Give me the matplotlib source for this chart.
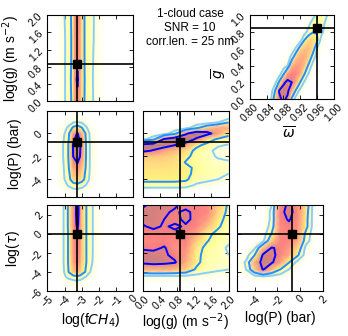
import numpy as np
import matplotlib
matplotlib.use('Agg')
from matplotlib import pyplot as plt
from matplotlib.colors import ListedColormap

plt.rcParams['font.family'] = ['Liberation Sans', 'DejaVu Sans']
plt.rcParams['mathtext.fontset'] = 'dejavusans'

# true parameter values (black lines + squares)
truth_fch4 = -3.3
truth_g = 0.86
truth_p = -0.7
truth_tau = 0.0
truth_eps = 0.96
truth_gbar = 0.85

# posterior density grids (rows = y nodes, cols = x nodes)
# log(g) vs log(fCH4)
xs_a = [-5, -4.5, -4.25, -4, -3.75, -3.5, -3.4, -3.25, -3.1, -3, -2.75, -2.5, -2.25, -2, -1.5]
ys_a = [0, 0.5, 1.0, 1.5, 2.0]
z_a = [
    [0, 0, 0.3, 0.9, 1.6, 3.2, 5.4, 6.0, 5.2, 3.6, 1.9, 1.4, 0.8, 0.3, 0],
    [0, 0, 0.3, 0.9, 1.7, 3.4, 5.8, 7.5, 5.5, 3.8, 1.9, 1.3, 0.8, 0.3, 0],
    [0, 0, 0.3, 0.9, 1.6, 3.2, 5.6, 6.3, 5.3, 3.6, 1.9, 1.4, 0.8, 0.3, 0],
    [0, 0, 0.2, 0.9, 1.6, 3.2, 5.8, 6.5, 5.4, 3.6, 1.9, 1.4, 0.9, 0.3, 0],
    [0, 0, 0.3, 1.0, 1.7, 3.3, 6.0, 6.8, 5.6, 3.6, 1.9, 1.5, 0.9, 0.3, 0],
]

# log(P) vs log(fCH4)
xs_b = [-4.5, -4, -3.75, -3.5, -3.25, -3, -2.75, -2.5, -2]
ys_b = [-5.5, -5, -4.5, -4, -3, -2, -1, 0, 0.5, 1, 1.5, 2]
z_b = [
    [0, 0, 0, 0, 0, 0, 0, 0, 0],
    [0, 0.1, 0.3, 0.5, 0.5, 0.4, 0.2, 0, 0],
    [0, 0.6, 1.2, 1.8, 2.0, 1.6, 1.0, 0.3, 0],
    [0, 1.0, 2.0, 3.5, 4.0, 3.2, 2.0, 0.6, 0],
    [0, 1.1, 2.5, 5.0, 6.0, 4.5, 2.3, 0.8, 0],
    [0, 1.2, 2.7, 7.0, 8.5, 6.0, 2.5, 0.8, 0],
    [0, 1.2, 2.7, 7.2, 9.5, 6.0, 2.5, 0.8, 0],
    [0, 1.0, 2.3, 5.5, 7.2, 5.0, 2.2, 0.7, 0],
    [0, 0.6, 1.3, 2.8, 3.5, 2.6, 1.2, 0.4, 0],
    [0, 0.2, 0.4, 0.8, 1.0, 0.8, 0.4, 0.1, 0],
    [0, 0, 0.1, 0.2, 0.2, 0.2, 0.1, 0, 0],
    [0, 0, 0, 0, 0, 0, 0, 0, 0],
]

# log(P) vs log(g)
xs_c = [0, 0.25, 0.5, 0.75, 1.0, 1.25, 1.5, 1.75, 2.0]
ys_c = [-5.5, -5, -4.5, -4, -3.5, -3, -2.5, -2, -1.5, -1, -0.5, 0, 0.5, 1, 1.5, 2]
z_c = [
    [0, 0, 0, 0, 0, 0, 0, 0, 0],
    [0, 0, 0, 0, 0, 0, 0, 0, 0],
    [1.8, 1.8, 1.8, 1.8, 1.7, 0.8, 0.5, 0.2, 0.0],
    [3.0, 3.0, 3.0, 3.0, 2.8, 1.6, 1.3, 1.0, 0.4],
    [3.2, 3.2, 3.2, 3.1, 3.0, 2.0, 1.6, 1.5, 1.0],
    [3.4, 3.4, 3.4, 3.3, 2.9, 2.2, 1.6, 1.4, 1.3],
    [3.6, 3.7, 3.7, 3.5, 2.4, 1.8, 1.5, 1.2, 1.1],
    [4.1, 4.2, 4.1, 3.8, 3.0, 1.8, 1.3, 0.9, 0.7],
    [7.6, 6.8, 5.3, 4.5, 3.5, 2.0, 1.4, 0.6, 0.5],
    [8.0, 8.4, 8.3, 7.1, 5.5, 3.0, 2.0, 1.2, 0.9],
    [0.5, 2.0, 7.3, 9.0, 9.3, 6.5, 3.5, 2.2, 1.8],
    [0, 0, 0.3, 2.0, 6.5, 9.0, 8.0, 5.5, 3.0],
    [0, 0, 0, 0, 0.3, 2.0, 4.0, 5.0, 5.0],
    [0, 0, 0, 0, 0, 0, 0, 0.8, 2.3],
    [0, 0, 0, 0, 0, 0, 0, 0, 0],
    [0, 0, 0, 0, 0, 0, 0, 0, 0],
]

# g-bar vs omega-bar
xs_d = [0.84, 0.85, 0.86, 0.87, 0.88, 0.89, 0.90, 0.91, 0.92, 0.93, 0.94, 0.95, 0.96, 0.97, 0.98, 0.99]
ys_d = [0, 0.1, 0.2, 0.3, 0.4, 0.5, 0.6, 0.7, 0.8, 0.9, 1.0]
z_d = [
    [0, 0.8, 3.5, 6.5, 7.5, 6.5, 2.0, 0.3, 0, 0, 0, 0, 0, 0, 0, 0],
    [0, 0.2, 2.5, 7.2, 8.0, 7.5, 5.0, 2.2, 0.5, 0, 0, 0, 0, 0, 0, 0],
    [0, 0, 0.5, 2.8, 6.5, 7.6, 7.0, 5.0, 2.5, 0.8, 0, 0, 0, 0, 0, 0],
    [0, 0, 0, 0.3, 2.2, 5.5, 6.5, 6.2, 5.0, 2.6, 0.9, 0, 0, 0, 0, 0],
    [0, 0, 0, 0, 0.2, 1.0, 4.5, 5.5, 5.5, 4.5, 2.2, 0.5, 0, 0, 0, 0],
    [0, 0, 0, 0, 0, 0.2, 1.5, 4.0, 5.0, 5.0, 4.0, 1.8, 0.3, 0, 0, 0],
    [0, 0, 0, 0, 0, 0, 0.1, 1.2, 3.5, 4.5, 4.5, 3.5, 1.0, 0.2, 0, 0],
    [0, 0, 0, 0, 0, 0, 0, 0.1, 0.4, 2.6, 3.8, 3.8, 2.8, 0.5, 0, 0],
    [0, 0, 0, 0, 0, 0, 0, 0, 0, 0.3, 1.6, 2.4, 2.4, 1.5, 0.4, 0],
    [0, 0, 0, 0, 0, 0, 0, 0, 0, 0, 0.5, 1.8, 2.2, 1.8, 0.8, 0.2],
    [0, 0, 0, 0, 0, 0, 0, 0, 0, 0, 0, 0.3, 1.5, 1.8, 1.4, 0.5],
]

# log(tau) vs log(fCH4)
xs_h = [-5, -4.5, -4.25, -4, -3.75, -3.5, -3.4, -3.25, -3.1, -3, -2.75, -2.5, -2.25, -2, -1.5]
ys_h = [-6, -5, -4.5, -4, -3, -2, -1, 0, 1, 2, 3]
z_h = [
    [0, 0, 0, 0, 0, 0, 0, 0, 0, 0, 0, 0, 0, 0, 0],
    [0, 0, 0, 0.2, 0.4, 0.6, 0.7, 0.7, 0.6, 0.5, 0.3, 0.1, 0, 0, 0],
    [0, 0, 0, 0.8, 1.5, 2.0, 2.1, 2.2, 2.0, 1.6, 1.0, 0.5, 0.2, 0, 0],
    [0, 0, 0.2, 1.1, 2.6, 4.0, 4.3, 4.5, 4.1, 3.4, 2.3, 1.0, 0.4, 0, 0],
    [0, 0, 0.3, 1.2, 2.8, 5.0, 5.8, 6.2, 5.5, 4.0, 2.6, 1.4, 0.6, 0.1, 0],
    [0, 0, 0.3, 1.2, 2.8, 5.2, 6.0, 6.6, 5.8, 4.2, 2.6, 1.4, 0.7, 0.2, 0],
    [0, 0, 0.3, 1.2, 2.8, 5.2, 6.1, 6.8, 5.9, 4.2, 2.6, 1.4, 0.7, 0.2, 0],
    [0, 0, 0.3, 1.2, 2.8, 5.3, 6.2, 6.9, 6.0, 4.2, 2.6, 1.4, 0.7, 0.2, 0],
    [0, 0, 0.3, 1.2, 2.9, 5.4, 6.4, 7.4, 6.1, 4.3, 2.6, 1.4, 0.7, 0.2, 0],
    [0, 0, 0.3, 1.2, 2.9, 5.5, 6.5, 7.6, 6.2, 4.3, 2.6, 1.4, 0.7, 0.2, 0],
    [0, 0, 0.3, 1.2, 2.9, 5.5, 6.5, 7.6, 6.2, 4.3, 2.6, 1.4, 0.7, 0.2, 0],
]

# log(tau) vs log(g)
xs_e = [0, 0.25, 0.5, 0.75, 1.0, 1.25, 1.5, 1.75, 2.0]
ys_e = [-6, -5.25, -4.5, -3.75, -3, -2.25, -1.5, -0.75, 0, 0.75, 1.5, 2.25, 3]
z_e = [
    [0, 0, 0, 0, 0, 0, 0, 0, 0],
    [0, 0, 0, 0, 0, 0, 0, 0, 0],
    [0.6, 0.6, 0.6, 0.6, 0.6, 0.5, 0.4, 0.3, 0.2],
    [4.5, 4.8, 4.8, 4.5, 4.0, 2.2, 1.5, 1.2, 1.0],
    [7.5, 7.8, 7.6, 7.2, 5.0, 3.0, 1.6, 1.3, 1.2],
    [7.6, 7.8, 7.3, 6.5, 5.5, 3.0, 1.8, 1.5, 1.0],
    [6.8, 6.5, 7.2, 5.8, 6.0, 3.2, 2.0, 1.5, 0.8],
    [6.0, 6.2, 6.3, 6.0, 6.5, 4.0, 2.6, 1.8, 1.2],
    [6.2, 6.3, 6.5, 6.6, 6.5, 5.2, 3.0, 2.0, 1.4],
    [6.8, 7.4, 6.8, 7.3, 6.8, 6.2, 4.5, 2.8, 1.5],
    [7.5, 7.6, 7.0, 6.5, 7.4, 6.5, 5.5, 3.2, 1.8],
    [7.8, 7.5, 7.2, 6.8, 7.3, 6.6, 6.2, 3.8, 2.0],
    [6.5, 7.8, 7.5, 7.2, 6.5, 6.5, 6.0, 4.0, 2.2],
]

# log(tau) vs log(P)
xs_f = [-5.5, -4.75, -4, -3.25, -2.5, -1.75, -1, -0.25, 0.5, 1.25, 2]
ys_f = [-6, -5.25, -4.5, -3.75, -3, -2.25, -1.5, -0.75, 0, 0.75, 1.5, 2.25, 3]
z_f = [
    [0, 0, 0, 0, 0, 0, 0, 0, 0, 0, 0],
    [0, 0, 0, 0, 0, 0, 0, 0, 0, 0, 0],
    [0, 0, 0.5, 0.8, 0.5, 0.2, 0, 0, 0, 0, 0],
    [0, 1.0, 4.0, 7.2, 4.5, 2.5, 1.0, 0, 0, 0, 0],
    [0, 1.2, 5.0, 8.0, 7.3, 5.5, 2.6, 0.5, 0, 0, 0],
    [0, 0.3, 2.5, 7.4, 7.6, 6.2, 5.0, 2.8, 0.2, 0, 0],
    [0, 0, 0.8, 4.5, 7.2, 6.5, 5.5, 3.8, 0.5, 0, 0],
    [0, 0, 0, 0.7, 4.0, 6.3, 6.2, 5.0, 1.6, 0, 0],
    [0, 0, 0, 0.2, 2.6, 6.0, 6.5, 5.5, 2.0, 0, 0],
    [0, 0, 0, 0, 1.6, 6.0, 6.5, 5.8, 3.0, 0, 0],
    [0, 0, 0, 0, 1.3, 6.3, 7.2, 6.0, 3.0, 0, 0],
    [0, 0, 0, 0, 1.3, 6.5, 7.6, 6.2, 3.2, 0, 0],
    [0, 0, 0, 0, 1.0, 6.0, 7.5, 6.0, 3.5, 0, 0],
]

levels = [1.0, 2.5, 7.0]
level_colors = ['#87cefa', '#1e90ff', '#0000ff']

lab_fch4 = r'log(f$CH_4$)'
lab_g = r'log(g) (m s$^{-2}$)'
lab_p = 'log(P) (bar)'
lab_tau = r'log($\tau$)'

fch4_ticks = [-5, -4, -3, -2, -1, 0]
g_ticks = [0.0, 0.4, 0.8, 1.2, 1.6, 2.0]
p_ticks_y = [-4, -2, 0]
p_ticks_x = [-4, -2, 0, 2]
tau_ticks = [-6, -4, -2, 0, 2]
eps_ticks = [0.80, 0.84, 0.88, 0.92, 0.96, 1.00]
gbar_ticks = [0.0, 0.2, 0.4, 0.6, 0.8, 1.0]

# hot_r seen through a half transparent layer on white
_hot = plt.get_cmap('hot_r')(np.linspace(0, 1, 256))
_hot[:, :3] = 0.5 * _hot[:, :3] + 0.5
heat_cmap = ListedColormap(_hot)


def draw_panel(ax, xs, ys, z, tx, ty):
    z = np.array(z)
    ax.pcolormesh(xs, ys, z, shading='gouraud', cmap=heat_cmap,
                  vmin=0, vmax=10, zorder=1)
    ax.contour(xs, ys, z, levels=levels, colors=level_colors,
               linewidths=1.4, zorder=2)
    ax.axvline(tx, color='k', lw=1.2, zorder=3)
    ax.axhline(ty, color='k', lw=1.2, zorder=3)
    ax.plot(tx, ty, 's', color='k', ms=6, zorder=4)
    ax.tick_params(direction='in', top=True, right=True, length=3,
                   width=0.6, labelsize=7.5, pad=2)


fig = plt.figure(figsize=(3.48, 3.36), dpi=100)

col_l = [0.136, 0.410, 0.682]
col_w = 0.247
row_b = [0.699, 0.415, 0.134]
row_h = 0.256

ax_a = fig.add_axes([col_l[0], row_b[0], col_w, row_h])
ax_b = fig.add_axes([col_l[0], row_b[1], col_w, row_h])
ax_c = fig.add_axes([col_l[1], row_b[1], col_w, row_h])
ax_h = fig.add_axes([col_l[0], row_b[2], col_w, row_h])
ax_e = fig.add_axes([col_l[1], row_b[2], col_w, row_h])
ax_f = fig.add_axes([col_l[2], row_b[2], col_w, row_h])
ax_d = fig.add_axes([0.718, 0.705, 0.241, 0.25])

draw_panel(ax_a, xs_a, ys_a, z_a, truth_fch4, truth_g)
draw_panel(ax_b, xs_b, ys_b, z_b, truth_fch4, truth_p)
draw_panel(ax_c, xs_c, ys_c, z_c, truth_g, truth_p)
draw_panel(ax_h, xs_h, ys_h, z_h, truth_fch4, truth_tau)
draw_panel(ax_e, xs_e, ys_e, z_e, truth_g, truth_tau)
draw_panel(ax_f, xs_f, ys_f, z_f, truth_p, truth_tau)
draw_panel(ax_d, xs_d, ys_d, z_d, truth_eps, truth_gbar)

for ax in (ax_a, ax_b, ax_h):
    ax.set_xlim(-5, 0)
    ax.set_xticks(fch4_ticks)
for ax in (ax_c, ax_e):
    ax.set_xlim(0, 2)
    ax.set_xticks(g_ticks)
ax_f.set_xlim(-5.5, 2)
ax_f.set_xticks(p_ticks_x)

ax_a.set_ylim(0, 2)
ax_a.set_yticks(g_ticks)
for ax in (ax_b, ax_c):
    ax.set_ylim(-5.5, 2)
    ax.set_yticks(p_ticks_y)
for ax in (ax_h, ax_e, ax_f):
    ax.set_ylim(-6, 3)
    ax.set_yticks(tau_ticks)

ax_d.set_xlim(0.8, 1.0)
ax_d.set_ylim(0, 1.0)
ax_d.set_xticks(eps_ticks)
ax_d.set_xticklabels(['%.2f' % v for v in eps_ticks])
ax_d.set_yticks(gbar_ticks)
ax_d.set_yticklabels(['%.1f' % v for v in gbar_ticks])

ax_a.set_yticklabels(['%.1f' % v for v in g_ticks])
ax_e.set_xticklabels(['%.1f' % v for v in g_ticks])

for ax in (ax_a, ax_b, ax_c):
    ax.tick_params(labelbottom=False)
for ax in (ax_c, ax_e, ax_f):
    ax.tick_params(labelleft=False)

for ax in (ax_a, ax_b, ax_c, ax_h, ax_e, ax_f, ax_d):
    plt.setp(ax.get_xticklabels(), rotation=45)
    plt.setp(ax.get_yticklabels(), rotation=45)

ax_a.set_ylabel(lab_g, fontsize=10)
ax_b.set_ylabel(lab_p, fontsize=10)
ax_h.set_ylabel(lab_tau, fontsize=10)
ax_h.set_xlabel(lab_fch4, fontsize=10)
ax_e.set_xlabel(lab_g, fontsize=10)
ax_f.set_xlabel(lab_p, fontsize=10)
for ax in (ax_a, ax_b, ax_h):
    ax.yaxis.set_label_coords(-0.3, 0.5)
for ax in (ax_h, ax_e, ax_f):
    ax.xaxis.set_label_coords(0.5, -0.235)

ax_d.set_xlabel(r'$\overline{\omega}$', fontsize=10)
ax_d.set_ylabel(r'$\overline{g}$', fontsize=10)
ax_d.xaxis.set_label_coords(0.46, -0.31)
ax_d.yaxis.set_label_coords(-0.25, 0.3)

fig.text(0.546, 0.975, '1-cloud case\nSNR = 10\ncorr.len. = 25 nm',
         ha='center', va='top', fontsize=8.5)

fig.savefig('out.png', dpi=100)
